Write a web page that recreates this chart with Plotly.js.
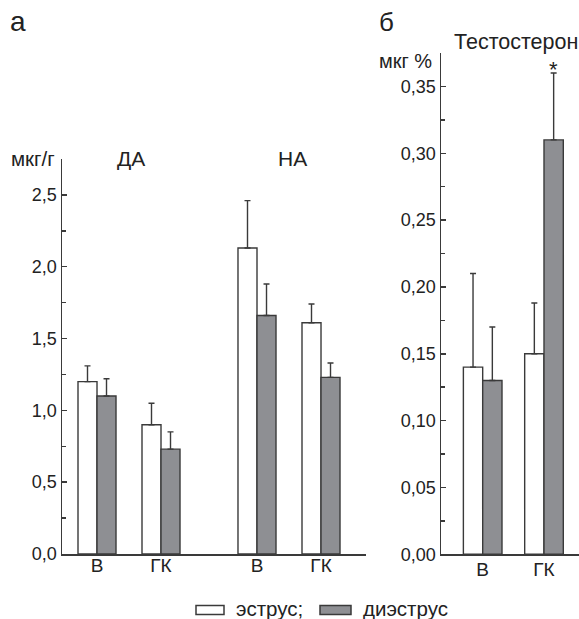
<!DOCTYPE html>
<html>
<head>
<meta charset="utf-8">
<script src="https://cdn.plot.ly/plotly-3.0.1.min.js"></script>
<style>html,body{margin:0;padding:0;background:#fff;}#chart{width:579px;height:619px;}</style>
</head>
<body>
<div id="chart"></div>
<script>
// ---- data ----
const regions = ['В', 'ГК'];
const seriesNames = ['эструс;', 'диэструс'];
// Panel a, ДА (мкг/г)
const daEstrus = [1.20, 0.90];
const daEstrusErr = [0.11, 0.15];
const daDiestrus = [1.10, 0.73];
const daDiestrusErr = [0.12, 0.12];
// Panel a, НА (мкг/г)
const naEstrus = [2.13, 1.61];
const naEstrusErr = [0.33, 0.13];
const naDiestrus = [1.66, 1.23];
const naDiestrusErr = [0.22, 0.10];
// Panel б, Тестостерон (мкг %)
const tEstrus = [0.14, 0.15];
const tEstrusErr = [0.07, 0.038];
const tDiestrus = [0.13, 0.31];
const tDiestrusErr = [0.04, 0.05];

const FONT = 'Liberation Sans, Arial, sans-serif';
const TXT = '#222';
const LINE = '#3a3a3a';
const GRAY = '#8e8f93';

const wL = 0.297, wR = 0.315;
function bar(x, y, err, xa, ya, fill, w, offset) {
  return {
    type: 'bar', x: x, y: y, xaxis: xa, yaxis: ya,
    width: w, offset: offset,
    marker: {color: fill, line: {color: LINE, width: 1.4}},
    error_y: {type: 'data', symmetric: false, array: err, arrayminus: err.map(() => 0),
              color: LINE, thickness: 1.4, width: 3},
    showlegend: false, hoverinfo: 'skip'
  };
}
const traces = [
  bar(regions, daEstrus, daEstrusErr, 'x', 'y', '#ffffff', wL, -wL),
  bar(regions, daDiestrus, daDiestrusErr, 'x', 'y', GRAY, wL, 0),
  bar(regions, naEstrus, naEstrusErr, 'x3', 'y', '#ffffff', wL, -wL),
  bar(regions, naDiestrus, naDiestrusErr, 'x3', 'y', GRAY, wL, 0),
  bar(regions, tEstrus, tEstrusErr, 'x2', 'y2', '#ffffff', wR, -wR),
  bar(regions, tDiestrus, tDiestrusErr, 'x2', 'y2', GRAY, wR, 0)
];

const W = 579, H = 619;
const px = v => v / W, py = v => 1 - v / H;

const xBase = {
  type: 'category', showline: true, linecolor: LINE, linewidth: 1.5,
  ticks: '', showgrid: false, zeroline: false, fixedrange: true,
  ticklabelstandoff: -6,
  tickfont: {family: FONT, size: 19, color: TXT}
};
const yBase = {
  showline: true, linecolor: LINE, linewidth: 1.5, showgrid: false, zeroline: false,
  ticks: 'inside', ticklen: 5, tickwidth: 1.5, tickcolor: LINE,
  tickfont: {family: FONT, size: 18, color: TXT}, fixedrange: true
};

function label(text, x, y, size, xanchor) {
  return {text: text, xref: 'paper', yref: 'paper', x: px(x), y: py(y),
          xanchor: xanchor || 'center', yanchor: 'middle', showarrow: false, borderpad: 0,
          font: {family: FONT, size: size, color: TXT}};
}

const layout = {
  width: W, height: H,
  margin: {l: 0, r: 0, t: 0, b: 0},
  paper_bgcolor: '#fff', plot_bgcolor: '#fff',
  separators: ', ',
  barmode: 'overlay',
  showlegend: false,
  font: {family: FONT, color: TXT},
  xaxis: Object.assign({}, xBase, {domain: [px(62), px(209)], range: [-0.547, 1.75], anchor: 'y'}),
  xaxis3: Object.assign({}, xBase, {domain: [px(209), px(366)], range: [-0.75, 1.703], anchor: 'y'}),
  yaxis: Object.assign({}, yBase, {domain: [py(554), py(159)], range: [0, 2.75], dtick: 0.5, tick0: 0,
    tickformat: '.1f', anchor: 'x',
    minor: {dtick: 0.25, tick0: 0, ticks: 'inside', ticklen: 4, tickwidth: 1.5, tickcolor: LINE}}),
  xaxis2: Object.assign({}, xBase, {domain: [px(441), 1], range: [-0.68, 1.571], anchor: 'y2',
    ticklabelstandoff: -3}),
  yaxis2: Object.assign({}, yBase, {domain: [py(554.3), py(53)], range: [0, 0.375], dtick: 0.05, tick0: 0,
    tickformat: '.2f', anchor: 'x2',
    minor: {dtick: 0.025, tick0: 0, ticks: 'inside', ticklen: 4, tickwidth: 1.5, tickcolor: LINE}}),
  shapes: [
    {type: 'rect', xref: 'paper', yref: 'paper', x0: px(196), x1: px(224), y0: py(614.5), y1: py(605.5),
     fillcolor: '#fff', line: {color: LINE, width: 1.5}},
    {type: 'rect', xref: 'paper', yref: 'paper', x0: px(320), x1: px(351), y0: py(614.5), y1: py(605.5),
     fillcolor: GRAY, line: {color: LINE, width: 1.5}}
  ],
  annotations: [
    label('а', 18, 21.5, 28),
    label('б', 386.5, 22, 26),
    label('мкг/г', 56, 158, 20.5, 'right'),
    label('ДА', 131, 159, 21),
    label('НА', 293, 159, 21),
    label('Тестостерон', 516, 42, 21.5),
    label('мкг %', 405.5, 61, 20),
    {text: '*', xref: 'x2', yref: 'y2', x: regions[1], y: tDiestrus[1] + tDiestrusErr[1], xshift: 9.7,
     yanchor: 'middle', yshift: 4, showarrow: false, borderpad: 0,
     font: {family: FONT, size: 22, color: TXT}},
    label(seriesNames[0], 235, 608.5, 20.5, 'left'),
    label(seriesNames[1], 362, 608.5, 20.5, 'left')
  ]
};

Plotly.newPlot('chart', traces, layout, {staticPlot: true, displayModeBar: false});
</script>
</body>
</html>
